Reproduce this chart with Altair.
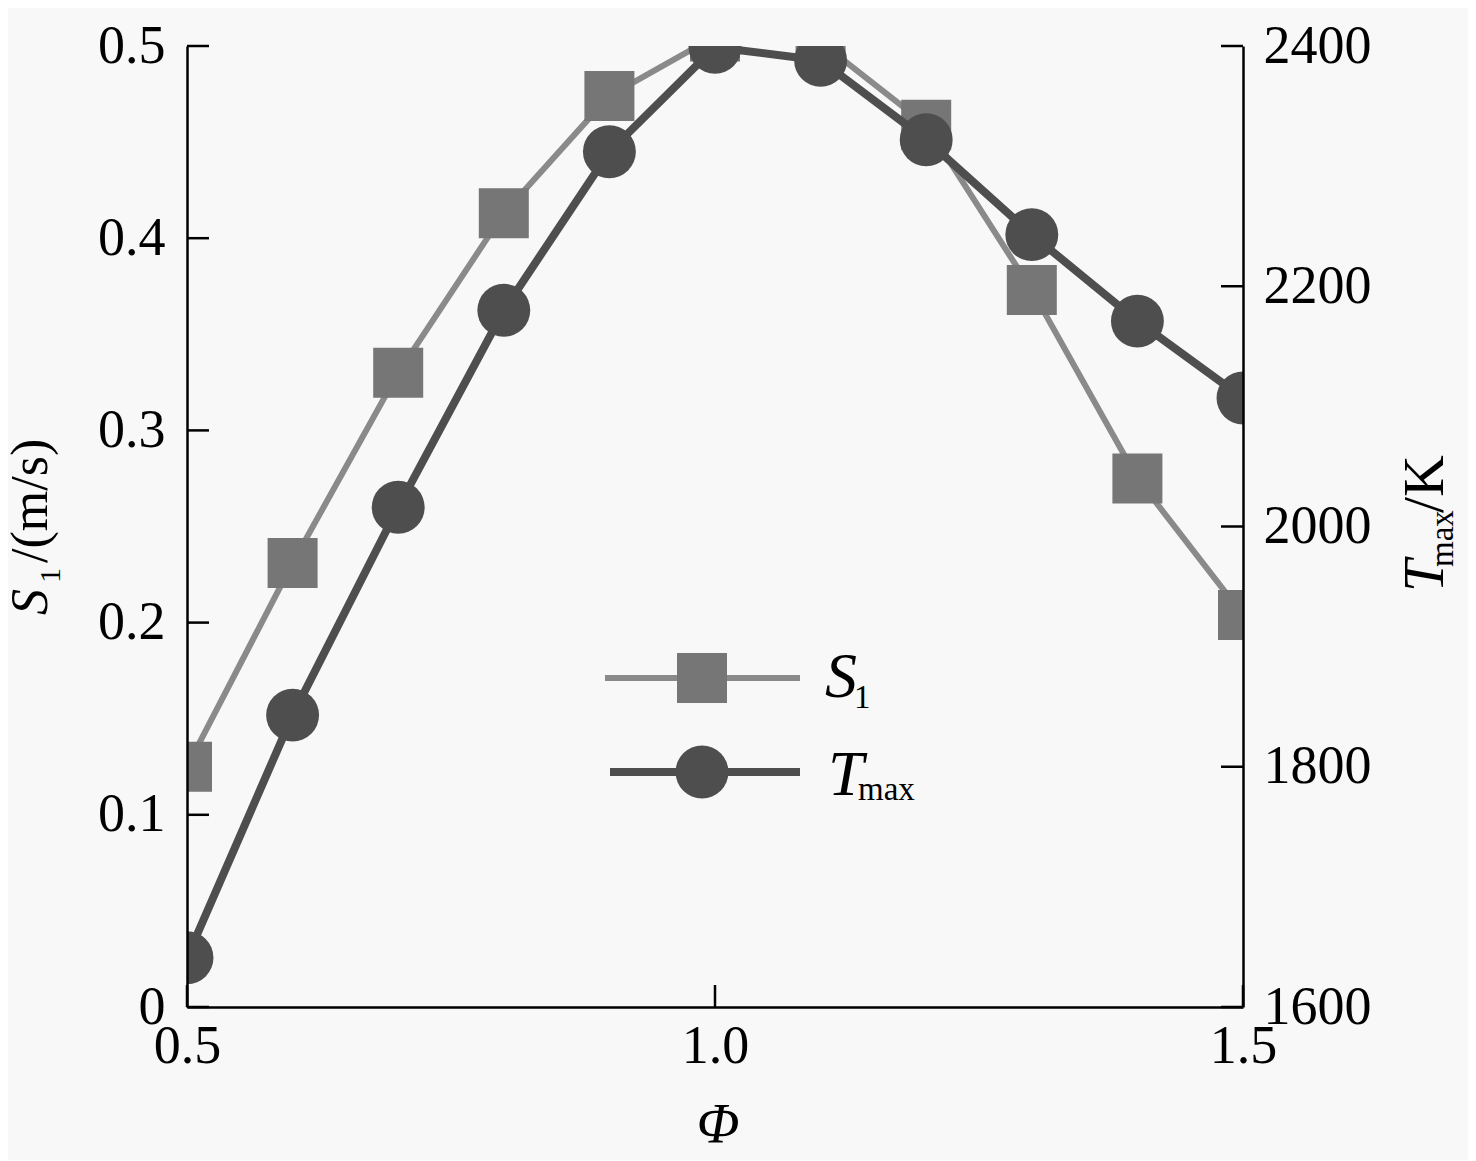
import altair as alt
import pandas as pd

# ---- data ----
phi = [0.5, 0.6, 0.7, 0.8, 0.9, 1.0, 1.1, 1.2, 1.3, 1.4, 1.5]
s1 = [0.125, 0.231, 0.330, 0.413, 0.474, 0.505, 0.502, 0.459, 0.373, 0.275, 0.204]
tmax = [1641, 1843, 2016, 2180, 2312, 2399, 2388, 2322, 2243, 2171, 2107]

x_ticks = [0.5, 1.0, 1.5]
left_ticks = [0.0, 0.1, 0.2, 0.3, 0.4, 0.5]
right_ticks = [1600, 1800, 2000, 2200, 2400]

W, H = 1056, 961
FONT = "Liberation Serif"
S_LINE = "#8a8a8a"
S_FILL = "#767676"
T_COL = "#4e4e4e"
BG = "#f8f8f8"

df = pd.DataFrame({"phi": phi, "S1": s1, "Tmax": tmax})
one = pd.DataFrame({"a": [0]})

xscale = alt.Scale(domain=[0.5, 1.5], nice=False, zero=False)
yl = alt.Scale(domain=[0, 0.5], nice=False)
yr = alt.Scale(domain=[1600, 2400], nice=False, zero=False)

common_axis = dict(title=None, ticks=False, grid=False, labelFont=FONT, labelFontSize=54,
                   labelColor="black", domainColor="black", domainWidth=2.5,
                   labelFlush=False, labelOverlap=False, zindex=1)

x_axis = alt.Axis(values=x_ticks, format=".1f", labelPadding=12, **common_axis)
l_axis = alt.Axis(values=left_ticks, orient="left", labelPadding=22,
                  labelExpr="datum.value == 0 ? '0' : format(datum.value, '.1f')", **common_axis)
r_axis = alt.Axis(values=right_ticks, orient="right", labelPadding=20, format="d", **common_axis)

X = alt.X("phi:Q", scale=xscale, axis=x_axis)

# ---- left (S1) group ----
s_line = alt.Chart(df).mark_line(color=S_LINE, strokeWidth=6, clip=True).encode(
    x=X, y=alt.Y("S1:Q", scale=yl, axis=l_axis))
s_pts = alt.Chart(df).mark_point(shape="square", filled=True, size=2500, opacity=1,
                                 color=S_FILL, clip=True).encode(
    x=X, y=alt.Y("S1:Q", scale=yl, axis=l_axis))
l_tick = alt.Chart(pd.DataFrame({"v": left_ticks})).mark_rule(color="black", strokeWidth=2.5).encode(
    y=alt.Y("v:Q", scale=yl, axis=l_axis), x=alt.value(0), x2=alt.value(22))
b_tick = alt.Chart(pd.DataFrame({"phi": x_ticks})).mark_rule(color="black", strokeWidth=2.5).encode(
    x=X, y=alt.value(H - 22), y2=alt.value(H))
left = alt.layer(s_line, s_pts, l_tick, b_tick)

# ---- right (Tmax) group ----
t_line = alt.Chart(df).mark_line(color=T_COL, strokeWidth=8, clip=True).encode(
    x=X, y=alt.Y("Tmax:Q", scale=yr, axis=r_axis))
t_pts = alt.Chart(df).mark_point(shape="circle", filled=True, size=2800, opacity=1,
                                 color=T_COL, clip=True).encode(
    x=X, y=alt.Y("Tmax:Q", scale=yr, axis=r_axis))
r_tick = alt.Chart(pd.DataFrame({"v": right_ticks})).mark_rule(color="black", strokeWidth=2.5).encode(
    y=alt.Y("v:Q", scale=yr, axis=r_axis), x=alt.value(W - 22), x2=alt.value(W))
right = alt.layer(t_line, t_pts, r_tick)


# ---- text helpers (titles / legend) ----
def txt(s, x, y, size, italic=False, angle=0, dy=0, align="left"):
    kw = dict(font=FONT, fontSize=size, color="black", align=align, baseline="alphabetic")
    if italic:
        kw["fontStyle"] = "italic"
    if angle:
        kw["angle"] = angle
    if dy:
        kw["dy"] = dy
    return alt.Chart(one).mark_text(**kw).encode(
        x=alt.value(x), y=alt.value(y), text=alt.value(s))


notes = [
    # x title
    txt("Φ", 531, 1097, 56, italic=True, align="center"),
    # left title  S1/(m/s)
    txt("S", -140, 569, 52, italic=True, angle=270),
    txt("1", -140, 537, 30, angle=270, dy=13),
    txt("/(m/s)", -140, 517, 52, angle=270),
    # right title  Tmax/K
    txt("T", 1256, 546, 58, italic=True, angle=270),
    txt("max", 1256, 521, 33, angle=270, dy=10),
    txt("/K", 1256, 467, 58, angle=270),
    # legend
    alt.Chart(one).mark_rule(color=S_LINE, strokeWidth=6).encode(
        x=alt.value(418), x2=alt.value(613), y=alt.value(632)),
    alt.Chart(one).mark_point(shape="square", filled=True, size=2500, opacity=1, color=S_FILL).encode(
        x=alt.value(515), y=alt.value(632)),
    alt.Chart(one).mark_rule(color=T_COL, strokeWidth=8).encode(
        x=alt.value(423), x2=alt.value(613), y=alt.value(726)),
    alt.Chart(one).mark_point(shape="circle", filled=True, size=2800, opacity=1, color=T_COL).encode(
        x=alt.value(515), y=alt.value(726)),
    txt("S", 638, 651, 64, italic=True),
    txt("1", 667, 662, 33),
    txt("T", 641, 749, 64, italic=True),
    txt("max", 671, 754, 33),
]
ann = alt.layer(*notes)

chart = alt.layer(left, right, ann).resolve_scale(y="independent").properties(
    width=W, height=H,
    autosize=alt.AutoSizeParams(type="none"),
    padding={"left": 179, "top": 38, "right": 225, "bottom": 153},
    background=BG,
).configure_view(stroke=None)

chart.save("out.html", embed_options={"renderer": "svg", "actions": False})
